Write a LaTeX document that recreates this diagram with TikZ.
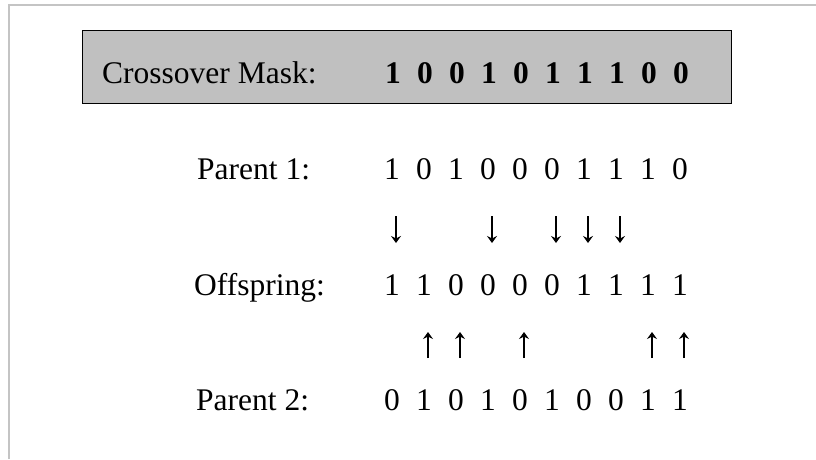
\documentclass[tikz,border=0pt]{standalone}
\usepackage{fontspec}
\setmainfont{Liberation Serif}
\usetikzlibrary{arrows.meta}
\definecolor{maskgray}{HTML}{C0C0C0}
\definecolor{framegray}{HTML}{C4C4C4}
\begin{document}
\begin{tikzpicture}[x=1pt,y=-1pt,
  txt/.style={inner sep=0pt,font=\fontsize{31.5}{36}\selectfont},
  lbl/.style={txt,anchor=base west},
  dig/.style={txt,anchor=base},
  bdig/.style={dig,font=\fontsize{31.5}{36}\selectfont\bfseries},
  maskbox/.style={draw=black,fill=maskgray,line width=1.2pt},
  frameline/.style={draw=framegray,line width=1.7pt},
  carrow/.style={line width=1.2pt,-{Stealth[length=7pt,width=10pt,inset=2.5pt]}}]
\useasboundingbox (0,0) rectangle (816,459);
% outer frame (partial)
\coordinate (fl) at (9,459);
\coordinate (fc) at (9,5);
\coordinate (fr) at (816,5);
\draw[frameline] (fl) -- (fc) -- (fr);
% mask box
\node[maskbox,minimum width=649pt,minimum height=73pt,anchor=north west,inner sep=0pt] (box) at (82,30) {};
\node[lbl] (masklbl) at (102,83) {Crossover Mask:};
\foreach \b [count=\i from 0] in {1,0,0,1,0,1,1,1,0,0}
  \node[bdig] (m\i) at (393+32*\i,83) {\b};
% rows
\node[lbl] (p1lbl) at (197,179) {Parent 1:};
\node[lbl] (oflbl) at (194,295) {Offspring:};
\node[lbl] (p2lbl) at (196,410) {Parent 2:};
\foreach \b [count=\i from 0] in {1,0,1,0,0,0,1,1,1,0}
  \node[dig] (a\i) at (392+32*\i,179) {\b};
\foreach \b [count=\i from 0] in {1,1,0,0,0,0,1,1,1,1}
  \node[dig] (o\i) at (392+32*\i,295) {\b};
\foreach \b [count=\i from 0] in {0,1,0,1,0,1,0,0,1,1}
  \node[dig] (c\i) at (392+32*\i,410) {\b};
% arrows from parent 1 (mask = 1)
\foreach \i in {0,3,5,6,7}
  \draw[carrow] ([shift={(4,37)}]a\i.base) -- ([shift={(4,-52)}]o\i.base);
% arrows from parent 2 (mask = 0)
\foreach \i in {1,2,4,8,9}
  \draw[carrow] ([shift={(4,-52)}]c\i.base) -- ([shift={(4,37)}]o\i.base);
\end{tikzpicture}
\end{document}
